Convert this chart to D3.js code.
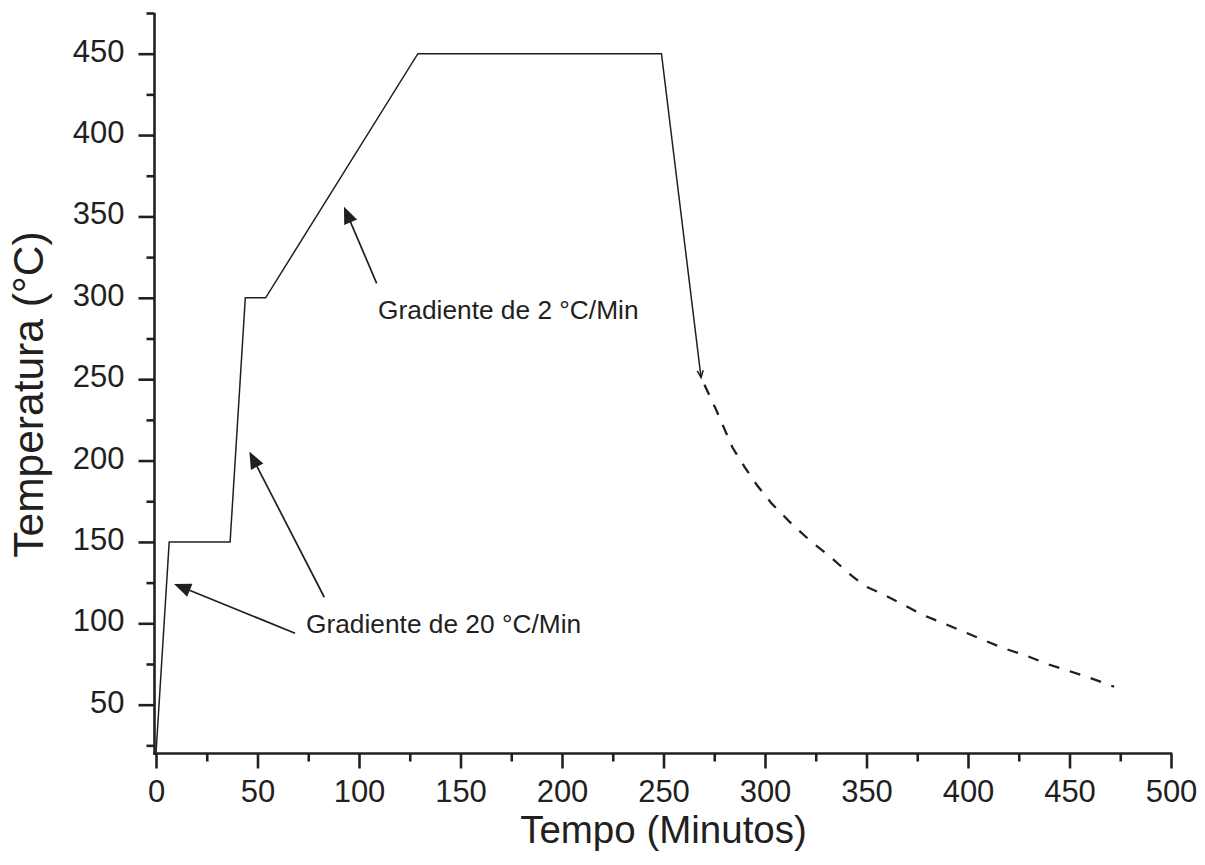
<!DOCTYPE html>
<html>
<head>
<meta charset="utf-8">
<script src="https://cdn.jsdelivr.net/npm/d3@7"></script>
<style>
  html, body { margin: 0; padding: 0; background: #fff; }
  svg { display: block; font-family: "Liberation Sans", Arial, sans-serif; }
</style>
</head>
<body>
<svg id="chart" width="1205" height="865"></svg>
<script>
// Heating program (solid): time in minutes, temperature in °C
const tempoAquecimento = [0, 6.5, 36.5, 44, 54, 129, 249, 268.5];
const tempAquecimento  = [20, 150, 150, 300, 300, 450, 450, 251];

// Cooling curve (dashed)
const tempoResfriamento = [268.5, 276, 284, 290, 296, 303, 312, 322, 332, 341.5, 349, 358, 368, 378, 389, 398.5, 408, 418, 429, 439, 449, 459, 472];
const tempResfriamento  = [251, 231, 208, 196, 185, 174, 162.5, 151, 141, 130.5, 123, 118, 111.5, 105, 99.5, 94.5, 89.5, 84.5, 80, 75, 71, 67, 61];

// Axis ticks
const xTicksMajor = [0, 50, 100, 150, 200, 250, 300, 350, 400, 450, 500];
const xTicksMinor = [25, 75, 125, 175, 225, 275, 325, 375, 425, 475];
const yTicksMajor = [50, 100, 150, 200, 250, 300, 350, 400, 450];
const yTicksMinor = [25, 75, 125, 175, 225, 275, 325, 375, 425, 475];

// Annotations: label text, anchor, arrow tail -> tip (data units)
const rotulos = ["Gradiente de 2 °C/Min", "Gradiente de 20 °C/Min"];
const rotuloX = [109.4, 73.9];
const rotuloY = [287, 93.9];
const setaCauda = [[108.7, 308.9], [82.9, 116], [68.5, 93.9]];
const setaPonta = [[92.6, 356], [46, 205.5], [8.9, 124.2]];

const ink = "#231f20";
const svg = d3.select("#chart");

const x = d3.scaleLinear().domain([0, 500]).range([156, 1171]);
const y = d3.scaleLinear().domain([20, 475]).range([753.5, 13]);
const axisX = 154.5;   // vertical axis position
const axisY = y(20);   // horizontal axis position

// ---- axes ----
const gx = svg.append("g").attr("transform", `translate(0,${axisY})`);
gx.call(d3.axisBottom(x).tickValues(xTicksMajor).tickSize(15).tickSizeOuter(0).tickPadding(11).tickFormat(d3.format("d")));
gx.append("g").call(d3.axisBottom(x).tickValues(xTicksMinor).tickSize(8).tickSizeOuter(0).tickFormat(""));

const gy = svg.append("g").attr("transform", `translate(${axisX},0)`);
gy.call(d3.axisLeft(y).tickValues(yTicksMajor).tickSize(16).tickSizeOuter(0).tickPadding(14).tickFormat(d3.format("d")));
gy.append("g").call(d3.axisLeft(y).tickValues(yTicksMinor).tickSize(8).tickSizeOuter(0).tickFormat(""));

svg.selectAll(".domain").remove();
svg.selectAll(".tick line").attr("stroke", ink).attr("stroke-width", 2.6);
gx.selectAll(".tick text").attr("fill", ink).attr("font-size", 31).attr("font-family", "Liberation Sans, Arial, sans-serif");
gy.selectAll(".tick text").attr("fill", ink).attr("font-size", 31).attr("font-family", "Liberation Sans, Arial, sans-serif").attr("dy", "0.24em");

// axis lines
svg.append("line").attr("x1", axisX).attr("x2", axisX).attr("y1", y(475)).attr("y2", axisY + 1.3)
  .attr("stroke", ink).attr("stroke-width", 2.6);
svg.append("line").attr("x1", axisX - 1.3).attr("x2", x(500) + 1.3).attr("y1", axisY).attr("y2", axisY)
  .attr("stroke", ink).attr("stroke-width", 2.6);

// axis titles
svg.append("text").attr("x", (x(0) + x(500)) / 2).attr("y", 843).attr("text-anchor", "middle")
  .attr("font-size", 38.5).attr("fill", ink).text("Tempo (Minutos)");
svg.append("text").attr("transform", "translate(43,394.5) rotate(-90)")
  .attr("text-anchor", "middle").attr("font-size", 42.5).attr("fill", ink).text("Temperatura (°C)");

// ---- curves ----
const line = d3.line().x(d => x(d[0])).y(d => y(d[1]));
const aquecimento = tempoAquecimento.map((t, i) => [t, tempAquecimento[i]]);
const resfriamento = tempoResfriamento.map((t, i) => [t, tempResfriamento[i]]);

svg.append("path").datum(aquecimento).attr("d", line)
  .attr("fill", "none").attr("stroke", ink).attr("stroke-width", 1.5).attr("stroke-linejoin", "miter");

// small open tip at the end of the heating line
{
  const a = aquecimento[aquecimento.length - 2], b = aquecimento[aquecimento.length - 1];
  const x1 = x(a[0]), y1 = y(a[1]), x2 = x(b[0]), y2 = y(b[1]);
  const ang = Math.atan2(y2 - y1, x2 - x1);
  const L = 7, W = 3;
  const p = (s, w) => [x2 - s * Math.cos(ang) - w * Math.sin(ang), y2 - s * Math.sin(ang) + w * Math.cos(ang)];
  svg.append("path").attr("d", d3.line()([p(L, W), [x2, y2], p(L, -W)]))
    .attr("fill", "none").attr("stroke", ink).attr("stroke-width", 1.5);
}

svg.append("path").datum(resfriamento).attr("d", line)
  .attr("fill", "none").attr("stroke", ink).attr("stroke-width", 2.3)
  .attr("stroke-dasharray", "11,11").attr("stroke-dashoffset", -8);

// ---- annotations ----
setaCauda.forEach((c, i) => {
  const t = setaPonta[i];
  const x1 = x(c[0]), y1 = y(c[1]), x2 = x(t[0]), y2 = y(t[1]);
  const ang = Math.atan2(y2 - y1, x2 - x1);
  const L = 17, W = 7;
  const bx = x2 - L * Math.cos(ang), by = y2 - L * Math.sin(ang);
  svg.append("line").attr("x1", x1).attr("y1", y1).attr("x2", bx + 3 * Math.cos(ang)).attr("y2", by + 3 * Math.sin(ang))
    .attr("stroke", ink).attr("stroke-width", 1.7);
  const p1 = [bx - W * Math.sin(ang), by + W * Math.cos(ang)];
  const p2 = [bx + W * Math.sin(ang), by - W * Math.cos(ang)];
  svg.append("path").attr("d", `M${x2},${y2}L${p1[0]},${p1[1]}L${p2[0]},${p2[1]}Z`).attr("fill", ink);
});

rotulos.forEach((r, i) => {
  svg.append("text").attr("x", x(rotuloX[i])).attr("y", y(rotuloY[i]))
    .attr("font-size", 26.3).attr("fill", ink).text(r);
});
</script>
</body>
</html>
